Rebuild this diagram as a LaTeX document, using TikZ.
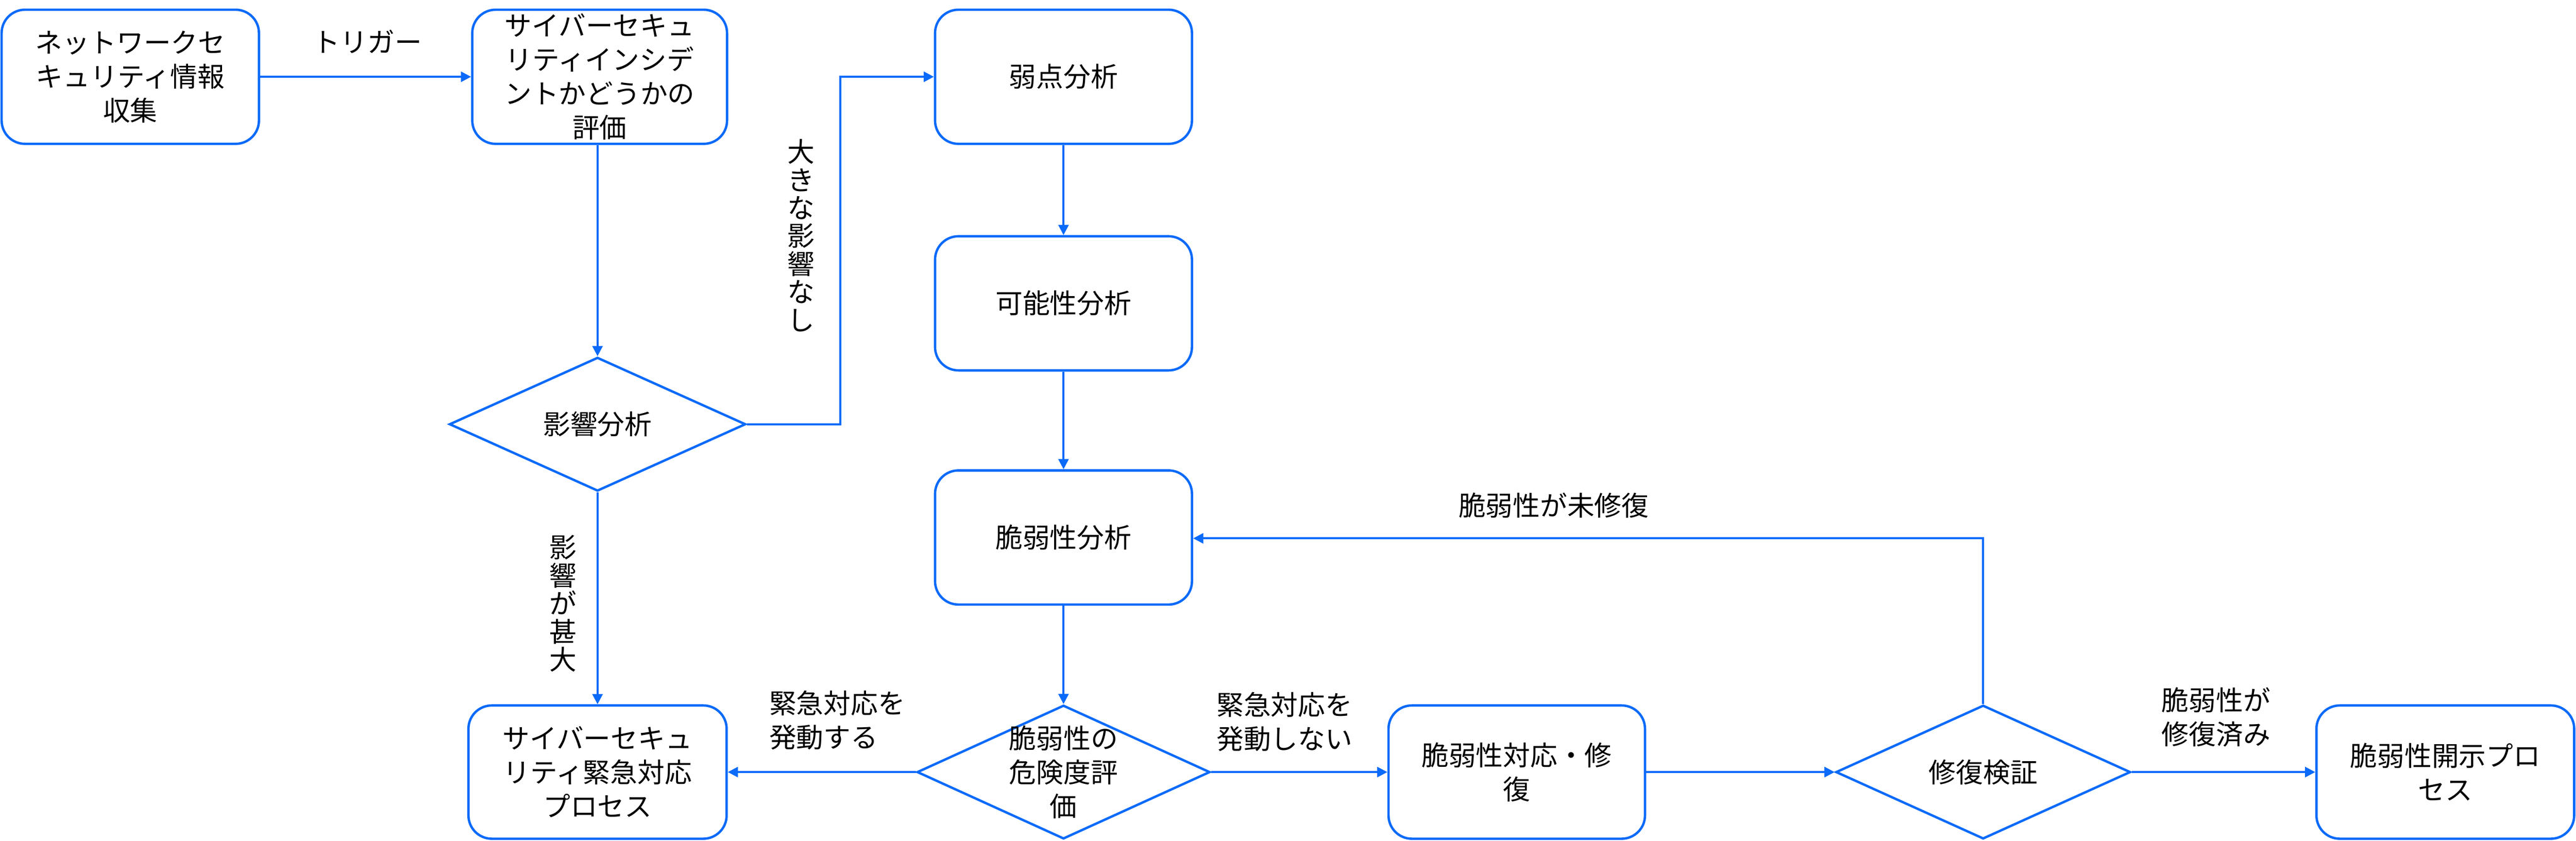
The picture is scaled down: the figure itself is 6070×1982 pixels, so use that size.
\documentclass[tikz,border=0pt]{standalone}
\usepackage{fontspec}
\setmainfont{Noto Sans CJK JP}
\usetikzlibrary{shapes.geometric,arrows.meta}
\definecolor{fblue}{HTML}{0A6AF9}
\tikzset{
  boxnode/.style={draw=fblue, line width=1.6pt, rounded corners=0.55cm, fill=white,
    minimum width=6.05cm, minimum height=3.16cm, inner sep=0pt, align=center,
    font=\fontsize{18.2}{22.8}\selectfont},
  dianode/.style={draw=fblue, line width=1.6pt, diamond, inner sep=0pt,
    minimum width=6.94cm, minimum height=3.15cm},
  ditext/.style={align=center, inner sep=0pt, font=\fontsize{18.2}{22.8}\selectfont},
  lbl/.style={inner sep=0pt, font=\fontsize{18.2}{22.8}\selectfont},
  vlbl/.style={inner sep=0pt, align=center, font=\fontsize{18.2}{18.8}\selectfont},
  conn/.style={draw=fblue, line width=1.3pt, -{Triangle[length=0.24cm,width=0.24cm]}}
}
\begin{document}
\begin{tikzpicture}[x=0.01cm,y=-0.01cm]
\useasboundingbox (0,0) rectangle (6070,1982);

% boxes
\node[boxnode, minimum width=6.06cm] (n1) at (307,181) {ネットワークセ\\キュリティ情報\\収集};
\node[boxnode, minimum width=6.0cm] (n2) at (1413,181) {サイバーセキュ\\リティインシデ\\ントかどうかの\\評価};
\node[boxnode] (wk) at (2506,181) {弱点分析};
\node[boxnode] (kn) at (2506,715) {可能性分析};
\node[boxnode] (zj) at (2506,1267) {脆弱性分析};
\node[boxnode, minimum width=6.08cm, minimum height=3.14cm] (em) at (1408,1820) {サイバーセキュ\\リティ緊急対応\\プロセス};
\node[boxnode, minimum width=6.04cm, minimum height=3.14cm] (fix) at (3574,1820) {脆弱性対応・修\\復};
\node[boxnode, minimum width=6.07cm, minimum height=3.14cm] (disc) at (5762,1820) {脆弱性開示プロ\\セス};

% diamonds
\node[dianode, minimum width=6.98cm] (d1) at (1408,1000) {};
\node[ditext] (d1t) at (d1.center) {影響分析};
\node[dianode, minimum width=6.9cm] (d2) at (2506,1820) {};
\node[ditext] (d2t) at (d2.center) {脆弱性の\\危険度評\\価};
\node[dianode] (d3) at (4673,1820) {};
\node[ditext] (d3t) at (d3.center) {修復検証};

% helper coordinates
\coordinate (c1) at (1980,1000);
\coordinate (c2) at (1980,181);
\coordinate (c3) at (4673,1269);

% connectors
\draw[conn] (n1.east) -- (n2.west);
\draw[conn] (d1.north |- n2.south) -- (d1.north);
\draw[conn] (d1.east) -- (c1) -- (c2) -- (wk.west);
\draw[conn] (d1.south) -- (em.north);
\draw[conn] (wk.south) -- (kn.north);
\draw[conn] (kn.south) -- (zj.north);
\draw[conn] (zj.south) -- (d2.north);
\draw[conn] (d2.west) -- (em.east);
\draw[conn] (d2.east) -- (fix.west);
\draw[conn] (fix.east) -- (d3.west);
\draw[conn] (d3.north) -- (c3) -- (zj.east |- c3);
\draw[conn] (d3.east) -- (disc.west);

% labels
\node[lbl] (l1) at (866,98) {トリガー};
\node[vlbl] (l2) at (1887,555) {大\\き\\な\\影\\響\\な\\し};
\node[vlbl] (l3) at (1327,1423) {影\\響\\が\\甚\\大};
\node[lbl, anchor=west, align=left] (l4) at (1812,1698) {緊急対応を\\発動する};
\node[lbl, anchor=west, align=left] (l5) at (2866,1702) {緊急対応を\\発動しない};
\node[lbl] (l6) at (3661,1191) {脆弱性が未修復};
\node[lbl, anchor=west, align=left] (l7) at (5093,1690) {脆弱性が\\修復済み};
\end{tikzpicture}
\end{document}
